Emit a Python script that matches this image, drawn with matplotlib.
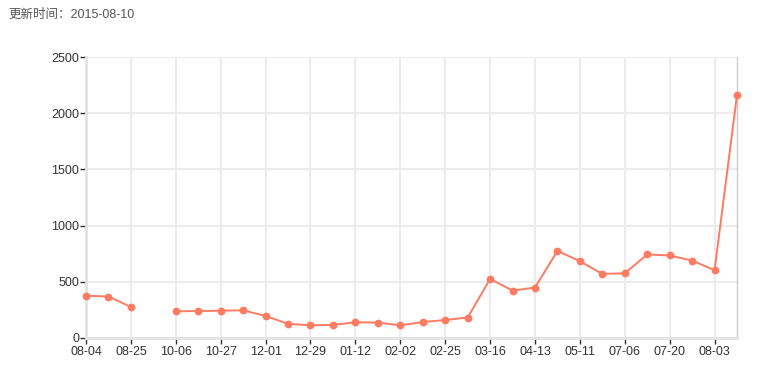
import numpy as np
import matplotlib
matplotlib.use('Agg')
import matplotlib.pyplot as plt

plt.rcParams['font.family'] = ['Liberation Sans', 'Noto Sans CJK SC', 'DejaVu Sans']

# weekly categories (only every other one is labelled)
dates = ['08-04', '08-11', '08-25', '09-15', '10-06', '10-13', '10-27', '11-10',
         '12-01', '12-15', '12-29', '01-05', '01-12', '01-19', '02-02', '02-09',
         '02-25', '03-02', '03-16', '03-30', '04-13', '04-27', '05-11', '06-01',
         '07-06', '07-13', '07-20', '07-27', '08-03', '08-10']
values = [376, 369, 276, np.nan, 237, 240, 243, 246,
          196, 126, 113, 116, 140, 137, 113, 142,
          160, 182, 525, 422, 449, 775, 683, 570,
          576, 743, 734, 689, 603, 2164]
yticks = [0, 500, 1000, 1500, 2000, 2500]
update_text = '更新时间：2015-08-10'

fig = plt.figure(figsize=(7.73, 3.82), dpi=100)
ax = fig.add_axes([86/773., 1-338/382., (737-86)/773., (338-57)/382.])

x = np.arange(len(dates))
ax.plot(x, values, color='#fe7b62', lw=1.4, marker='o', ms=4.6, zorder=3, clip_on=False)

ax.set_xlim(0, len(dates)-1)
ax.set_ylim(0, 2500)
ax.set_yticks(yticks)
ax.set_xticks(x[::2])
ax.set_xticklabels(dates[::2])

ax.grid(True, color='#ececec', lw=1.5, zorder=0)
ax.set_axisbelow(True)
for s in ['left', 'bottom']:
    ax.spines[s].set_color('#e3e3e3')
    ax.spines[s].set_linewidth(2)
ax.spines['right'].set_color('#cccccc')
ax.spines['right'].set_linewidth(1)
ax.spines['top'].set_visible(False)

ax.tick_params(axis='both', colors='#333333', labelcolor='#333333', labelsize=9,
               length=4, width=1, pad=1)
ax.tick_params(axis='x', pad=2)

fig.text(8/773., 1-15/382., update_text, fontsize=9, color='#555555', va='center', ha='left')

plt.savefig('out.png', dpi=100)
